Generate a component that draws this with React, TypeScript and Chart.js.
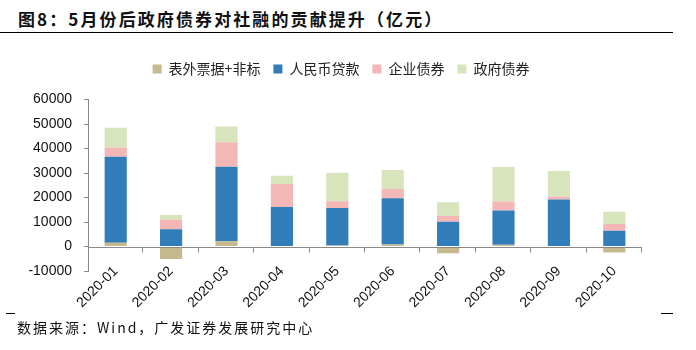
import React, { useEffect, useRef } from "react";
import { Chart, registerables } from "chart.js";

Chart.register(...registerables);

// ---- data ----
const categories = ["2020-01", "2020-02", "2020-03", "2020-04", "2020-05", "2020-06", "2020-07", "2020-08", "2020-09", "2020-10"];
const offBalance = [1500, -5100, 2100, 0, 400, 800, -2800, 700, 0, -2400];
const rmbLoans = [35200, 7000, 30500, 16100, 15300, 18900, 10100, 14000, 19200, 6400];
const corpBonds = [3700, 4000, 10000, 9400, 2750, 3750, 2400, 3650, 1200, 2800];
const govBonds = [8100, 1900, 6400, 3400, 11650, 7800, 5550, 14150, 10450, 5000];
const seriesNames = ["表外票据+非标", "人民币贷款", "企业债券", "政府债券"];
const yMin = -10000;
const yMax = 60000;
const yStep = 10000;

const COLORS = ["#C6B98E", "#317DBA", "#F3B8B5", "#D8E4BC"];
const AXIS = "#8a8a8a";
const LATIN = '"Liberation Sans", Arial, sans-serif';
const CJK = '"Noto Sans CJK SC", sans-serif';

const layoutTweaksPlugin = {
  id: "layoutTweaks",
  afterInit(chart: any) {
    const legend = chart.legend;
    if (!legend) return;
    const orig = legend.fit;
    legend.fit = function () {
      orig.call(this);
      this.height += 13.6;
    };
  },
  beforeDraw(chart: any) {
    // let tick labels spill outside their scale boxes (no clipping)
    Object.values(chart.scales).forEach((s: any) => {
      s._computeLabelArea = () => undefined;
    });
  },
};

const zeroAxisPlugin = {
  id: "zeroAxis",
  afterDatasetsDraw(chart: any) {
    const { ctx, chartArea, scales } = chart;
    const x = scales.x;
    const y = scales.y;
    const y0 = Math.round(y.getPixelForValue(0)) + 0.5;
    const step = x.getPixelForValue(1) - x.getPixelForValue(0);
    ctx.save();
    ctx.strokeStyle = AXIS;
    ctx.lineWidth = 1;
    ctx.beginPath();
    ctx.moveTo(chartArea.left, y0);
    ctx.lineTo(chartArea.right, y0);
    for (let i = 0; i < categories.length; i++) {
      const bx = Math.round(x.getPixelForValue(i) + step / 2) - 0.5;
      ctx.moveTo(bx, y0);
      ctx.lineTo(bx, y0 + 5);
    }
    ctx.stroke();
    ctx.restore();
  },
};

function ChartCanvas() {
  const ref = useRef<HTMLCanvasElement | null>(null);
  useEffect(() => {
    if (!ref.current) return;
    const data = [offBalance, rmbLoans, corpBonds, govBonds];
    const chart = new Chart(ref.current, {
      type: "bar",
      data: {
        labels: categories,
        datasets: data.map((d, i) => ({
          label: seriesNames[i],
          data: d,
          backgroundColor: COLORS[i],
          borderWidth: 0,
          barPercentage: 0.4,
          categoryPercentage: 1,
        })),
      },
      options: {
        responsive: false,
        animation: false,
        layout: { padding: { left: 40, right: 54, top: 9, bottom: 0 } },
        plugins: {
          legend: {
            display: true,
            position: "top",
            labels: {
              boxWidth: 9,
              boxHeight: 9,
              padding: 13,
              color: "#222",
              font: { family: CJK, size: 14 },
            },
          },
          tooltip: { enabled: false },
          title: { display: false },
        },
        scales: {
          x: {
            stacked: true,
            grid: { display: false, drawTicks: false },
            border: { display: false },
            ticks: {
              minRotation: 45,
              maxRotation: 45,
              padding: -8,
              color: "#111",
              font: { family: LATIN, size: 14 },
            },
            afterFit: (s: any) => {
              s.height = 44;
            },
          },
          y: {
            stacked: true,
            min: yMin,
            max: yMax,
            ticks: {
              stepSize: yStep,
              padding: 12,
              color: "#111",
              font: { family: LATIN, size: 14 },
              callback: (v: any) => String(v),
            },
            grid: { drawOnChartArea: false, drawTicks: true, tickLength: 4, color: AXIS },
            border: { display: true, color: AXIS },
            afterFit: (s: any) => {
              s.width = 48;
            },
          },
        },
      },
      plugins: [layoutTweaksPlugin, zeroAxisPlugin],
    });
    return () => chart.destroy();
  }, []);
  return <canvas ref={ref} width={696} height={275} style={{ width: 696, height: 275, display: "block" }} />;
}

export default function App() {
  return (
    <div style={{ position: "fixed", left: 0, top: 0, width: 696, height: 350, background: "#fff", overflow: "hidden" }}>
      <div
        style={{
          position: "absolute",
          left: 18,
          top: 10,
          font: `bold 17px ${CJK}`,
          lineHeight: "17px",
          letterSpacing: "2.1px",
          whiteSpace: "nowrap",
          color: "#111",
        }}
      >
        图8：5月份后政府债券对社融的贡献提升（亿元）
      </div>
      <div style={{ position: "absolute", left: 0, top: 32, width: 673, height: 0, borderTop: "1.5px solid #000" }} />
      <div style={{ position: "absolute", left: 0, top: 40 }}>
        <ChartCanvas />
      </div>
      <div style={{ position: "absolute", left: 6, top: 313, width: 9, height: 0, borderTop: "1px solid #000" }} />
      <div style={{ position: "absolute", left: 661, top: 313, width: 12, height: 0, borderTop: "1px solid #000" }} />
      <div
        style={{
          position: "absolute",
          left: 17,
          top: 320,
          font: `14px ${CJK}`,
          lineHeight: "14px",
          letterSpacing: "2px",
          whiteSpace: "nowrap",
          color: "#111",
        }}
      >
        数据来源：Wind，广发证券发展研究中心
      </div>
    </div>
  );
}
